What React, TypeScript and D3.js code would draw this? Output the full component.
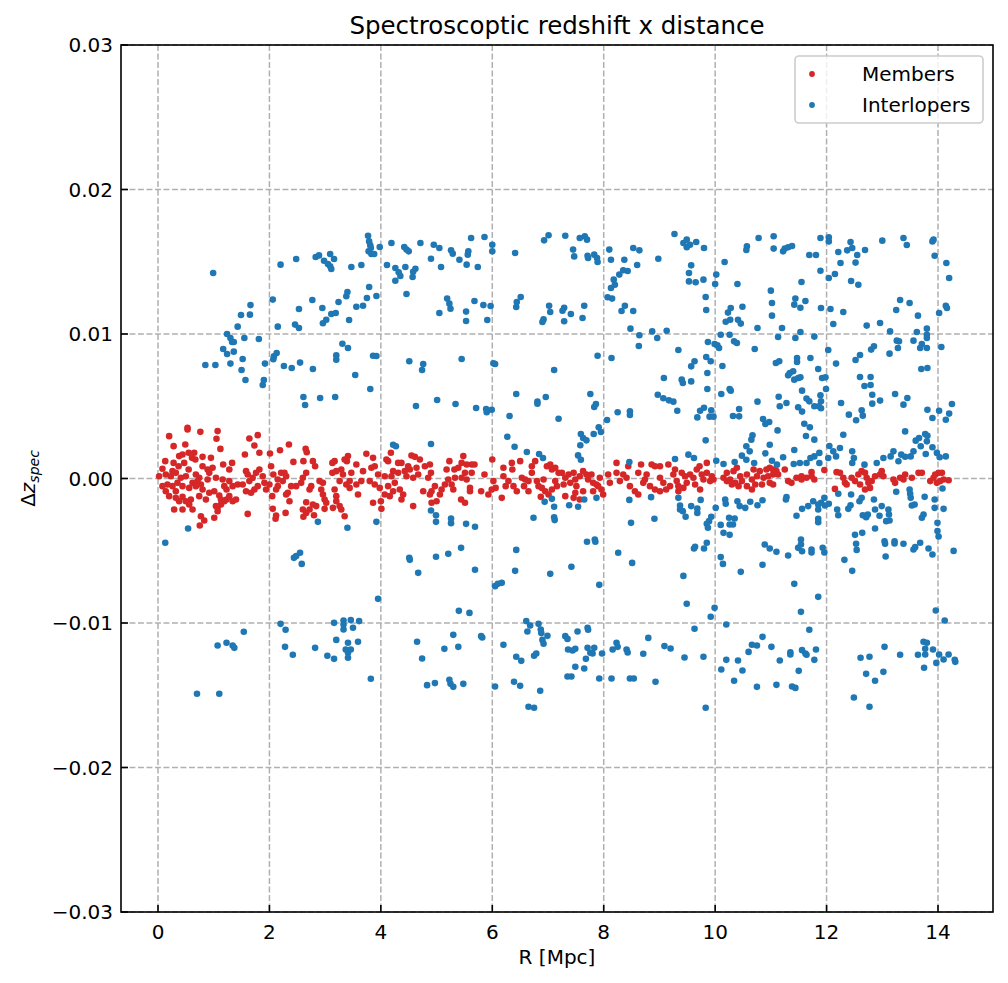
import React from "react";
import * as d3 from "d3";

// ---- Data (R in Mpc, Δz_spec) ----
const xTicks = [0, 2, 4, 6, 8, 10, 12, 14];
const yTicks = [-0.03, -0.02, -0.01, 0.0, 0.01, 0.02, 0.03];
const yTickLabels = ["\u22120.03", "\u22120.02", "\u22120.01", "0.00", "0.01", "0.02", "0.03"];
const seriesNames = ["Members", "Interlopers"];

const members: [number, number][] = [
  [0.53,3.51e-3],[0.53,3.39e-3],[0.76,3.23e-3],[1.07,3.28e-3],[0.20,2.93e-3],[1.79,3.0e-3],[1.64,2.77e-3],[1.05,2.75e-3],
  [0.49,2.35e-3],[0.28,2.24e-3],[1.73,2.28e-3],[1.12,2.05e-3],[1.82,1.78e-3],[2.35,2.35e-3],[2.19,1.96e-3],[2.01,1.73e-3],
  [2.65,2.05e-3],[2.67,1.82e-3],[1.56,1.66e-3],[0.13,1.20e-3],[0.38,1.55e-3],[0.44,1.66e-3],[0.55,1.78e-3],[0.65,1.78e-3],
  [0.61,1.43e-3],[0.80,1.50e-3],[0.67,1.31e-3],[0.95,1.43e-3],[0.28,1.08e-3],[0.47,1.08e-3],[1.17,0.97e-3],[1.33,1.08e-3],
  [1.28,0.62e-3],[0.89,0.62e-3],[0.92,0.39e-3],[0.98,0.74e-3],[0.80,0.85e-3],[0.55,0.62e-3],[0.37,0.85e-3],[0.26,0.51e-3],
  [0.08,0.67e-3],[0.02,0.16e-3],[0.14,0.28e-3],[0.23,0.16e-3],[0.32,0.39e-3],[0.41,0.05e-3],[0.50,0.16e-3],[0.68,0.28e-3],
  [0.74,0.05e-3],[0.89,-0.07e-3],[1.04,0.05e-3],[1.16,-0.07e-3],[1.28,-0.18e-3],[1.43,-0.42e-3],[1.34,-0.53e-3],[1.58,0.51e-3],
  [1.61,0.28e-3],[1.64,-0.18e-3],[1.70,0.05e-3],[1.76,0.39e-3],[1.82,0.62e-3],[1.88,0.16e-3],[1.91,-0.30e-3],[1.79,-0.53e-3],
  [1.73,-0.76e-3],[1.67,-0.99e-3],[1.58,-0.88e-3],[1.52,-0.42e-3],[2.03,0.85e-3],[2.07,0.28e-3],[2.15,-0.07e-3],[2.21,0.39e-3],
  [2.27,0.39e-3],[2.30,0.16e-3],[2.24,-0.18e-3],[2.15,-0.53e-3],[2.0,-0.42e-3],[1.94,-0.76e-3],[2.43,1.15e-3],[2.61,1.20e-3],
  [2.78,1.20e-3],[2.82,0.85e-3],[2.66,0.39e-3],[2.60,0.05e-3],[2.57,-0.30e-3],[2.48,-0.53e-3],[2.39,-0.53e-3],[2.33,-0.99e-3],
  [2.30,-1.11e-3],[2.36,-1.57e-3],[2.05,-1.22e-3],[2.12,-0.76e-3],[2.75,-0.53e-3],[2.72,-0.76e-3],[2.90,-0.18e-3],[2.96,-0.30e-3],
  [2.93,-0.76e-3],[2.96,-1.11e-3],[2.99,-1.45e-3],[3.02,-1.68e-3],[3.13,1.08e-3],[3.17,1.20e-3],[3.20,0.51e-3],[3.13,0.39e-3],
  [3.29,0.62e-3],[3.32,0.28e-3],[3.35,1.31e-3],[3.39,1.20e-3],[3.41,1.55e-3],[3.47,0.39e-3],[3.44,-0.18e-3],[3.44,-0.65e-3],
  [3.38,-0.42e-3],[3.26,-0.18e-3],[3.17,-0.76e-3],[3.20,-1.22e-3],[3.20,-1.57e-3],[3.26,-1.91e-3],[3.14,-2.03e-3],[3.29,-2.15e-3],
  [3.35,-2.61e-3],[2.99,-2.10e-3],[2.84,-1.91e-3],[2.78,-1.80e-3],[2.66,-1.64e-3],[2.72,-2.15e-3],[2.66,-2.38e-3],[2.60,-2.15e-3],
  [2.61,-2.65e-3],[2.80,-2.54e-3],[2.06,-2.10e-3],[2.12,-2.56e-3],[2.11,-2.79e-3],[2.29,-2.38e-3],[1.61,-2.45e-3],[0.77,-2.61e-3],
  [0.83,-2.91e-3],[0.75,-3.25e-3],[1.01,-2.72e-3],[1.07,-2.26e-3],[1.04,-1.91e-3],[1.13,-1.80e-3],[1.19,-1.57e-3],[1.23,-1.45e-3],
  [1.28,-1.22e-3],[1.34,-1.57e-3],[1.40,-1.45e-3],[1.13,-1.45e-3],[1.07,-2.03e-3],[0.62,-2.15e-3],[0.44,-2.15e-3],[0.29,-2.15e-3],
  [0.56,-1.80e-3],[0.50,-1.57e-3],[0.59,-1.45e-3],[0.38,-1.57e-3],[0.32,-1.34e-3],[0.44,-1.27e-3],[0.20,-1.22e-3],[0.14,-0.88e-3],
  [0.08,-0.53e-3],[0.17,-0.42e-3],[0.26,-0.53e-3],[0.32,-0.88e-3],[0.44,-0.53e-3],[0.56,-0.65e-3],[0.68,-0.53e-3],[0.80,-0.76e-3],
  [0.74,-1.22e-3],[0.86,-1.45e-3],[0.92,-0.99e-3],[0.77,-0.42e-3],[0.62,-0.30e-3],[0.71,-0.18e-3],[0.35,-0.30e-3],[1.19,-0.53e-3],
  [1.23,-0.76e-3],[1.01,-0.88e-3],[1.10,-1.18e-3],
  [3.74,1.71e-3],[3.86,1.43e-3],[3.56,0.97e-3],[3.68,0.51e-3],[3.83,0.74e-3],[3.89,0.85e-3],[4.13,1.20e-3],[4.18,1.78e-3],
  [4.10,1.31e-3],[4.31,1.08e-3],[4.37,1.08e-3],[4.55,1.59e-3],[4.61,1.50e-3],[4.70,1.31e-3],[4.49,0.85e-3],[4.43,0.51e-3],
  [4.52,0.62e-3],[4.64,0.74e-3],[4.79,0.85e-3],[4.88,0.97e-3],[4.90,0.39e-3],[4.85,0.05e-3],[4.67,0.28e-3],[4.58,0.05e-3],
  [4.46,0.16e-3],[4.31,0.39e-3],[4.22,0.51e-3],[4.19,0.16e-3],[4.07,0.16e-3],[3.95,0.28e-3],[3.80,-0.18e-3],[3.65,-0.18e-3],
  [3.56,-0.42e-3],[3.89,-0.42e-3],[3.98,-0.65e-3],[4.13,-0.53e-3],[4.25,-0.30e-3],[4.34,-0.76e-3],[4.40,-1.11e-3],[4.22,-0.88e-3],
  [4.07,-1.11e-3],[4.0,-1.57e-3],[4.01,-2.10e-3],[3.86,-1.68e-3],[3.59,-1.11e-3],[4.16,-1.22e-3],[4.37,-1.45e-3],[4.58,-1.91e-3],
  [4.76,-0.88e-3],[4.91,-0.88e-3],[4.97,-0.53e-3],[4.91,-1.68e-3],[5.0,-1.57e-3],[4.88,-1.11e-3],[5.18,0.62e-3],[5.23,1.20e-3],
  [5.32,0.62e-3],[5.39,0.74e-3],[5.48,1.55e-3],[5.45,1.08e-3],[5.54,0.97e-3],[5.63,0.97e-3],[5.68,0.97e-3],[5.51,0.39e-3],
  [5.63,0.39e-3],[5.33,0.05e-3],[5.21,-0.07e-3],[5.27,-0.42e-3],[5.15,-0.42e-3],[5.09,-0.76e-3],[5.30,-0.76e-3],[5.06,-1.11e-3],
  [5.45,0.05e-3],[5.54,-0.07e-3],[5.44,-1.45e-3],[5.51,-1.68e-3],[5.60,-0.88e-3],[5.60,-0.65e-3],[5.80,-0.88e-3],[5.93,-1.11e-3],
  [5.86,0.28e-3],[6.0,1.31e-3],[6.02,-0.18e-3],[5.99,-0.76e-3],[6.06,-0.65e-3],[6.20,0.74e-3],[6.20,0.16e-3],[6.35,1.08e-3],
  [6.36,0.62e-3],[6.29,-0.18e-3],[6.24,-0.53e-3],[6.17,-1.34e-3],[6.38,-0.53e-3],[6.44,-0.88e-3],[6.50,1.20e-3],[6.53,0.05e-3],
  [6.59,-0.07e-3],[6.65,-0.18e-3],[6.71,0.85e-3],[6.71,0.39e-3],[6.77,1.20e-3],[6.80,-0.18e-3],[6.83,-0.53e-3],[6.92,-0.07e-3],
  [6.89,-0.65e-3],[6.95,-0.88e-3],[6.98,0.85e-3],[7.04,0.97e-3],[7.07,0.62e-3],[7.13,0.74e-3],[7.19,0.39e-3],[7.13,-0.18e-3],
  [7.16,-0.53e-3],[7.07,-0.76e-3],[7.01,-1.11e-3],[6.87,-1.27e-3],[6.65,-0.88e-3],[6.57,-0.53e-3],
  [7.25,0.39e-3],[7.31,0.05e-3],[7.28,-0.42e-3],[7.37,0.28e-3],[7.40,-0.30e-3],[7.46,0.39e-3],[7.49,-0.07e-3],[7.51,-0.53e-3],
  [7.57,0.16e-3],[7.63,0.51e-3],[7.69,0.28e-3],[7.72,-0.07e-3],[7.63,-0.88e-3],[7.49,-0.99e-3],[7.31,-1.22e-3],[7.46,-1.34e-3],
  [7.57,-1.45e-3],[7.78,0.28e-3],[7.81,-0.30e-3],[7.81,-0.88e-3],[7.93,0.05e-3],[7.87,-0.42e-3],[7.96,-0.76e-3],[7.99,-1.11e-3],
  [7.90,-0.53e-3],[8.08,0.28e-3],[8.11,-0.30e-3],[8.23,1.08e-3],[8.23,0.39e-3],[8.35,0.28e-3],[8.41,0.05e-3],[8.29,-0.18e-3],
  [8.47,-0.53e-3],[8.56,-0.88e-3],[8.62,-1.11e-3],[8.44,0.85e-3],[8.62,0.39e-3],[8.67,0.97e-3],[8.77,0.28e-3],[8.74,-0.07e-3],
  [8.71,-0.30e-3],[8.86,0.97e-3],[8.92,0.85e-3],[9.01,0.85e-3],[8.83,-0.53e-3],[8.92,-0.76e-3],[9.01,-0.88e-3],[9.07,-0.30e-3],
  [9.01,0.05e-3],[9.12,-0.76e-3],[9.19,-0.53e-3],[9.16,0.97e-3],[9.28,0.62e-3],[9.25,0.28e-3],[9.31,-0.18e-3],[9.34,-0.53e-3],
  [9.34,-0.88e-3],[9.40,0.39e-3],[9.46,0.16e-3],[9.49,-0.30e-3],[9.43,-0.65e-3],[9.55,0.28e-3],[9.61,0.05e-3],[9.64,-0.42e-3],
  [9.67,0.62e-3],[9.72,0.85e-3],[9.76,0.28e-3],[9.79,-0.07e-3],[9.85,0.39e-3],[9.85,1.08e-3],[9.91,-0.18e-3],[9.94,0.16e-3],
  [9.97,-0.07e-3],[9.73,-0.76e-3],[10.15,0.05e-3],[10.21,0.39e-3],[10.27,-0.07e-3],[10.33,0.51e-3],[10.39,0.74e-3],[10.36,-0.30e-3],
  [10.45,0.16e-3],[10.48,-0.18e-3],[10.57,0.28e-3],[10.57,-0.53e-3],[10.66,-0.07e-3],[10.66,-0.76e-3],[10.69,0.62e-3],[10.75,0.16e-3],
  [10.80,0.51e-3],[10.87,0.05e-3],[10.84,-0.42e-3],[10.72,-0.42e-3],[10.21,-0.18e-3],[10.30,-0.42e-3],[10.42,-0.53e-3],
  [10.92,0.62e-3],[10.98,0.74e-3],[11.04,0.62e-3],[11.10,0.51e-3],[10.95,0.16e-3],[11.04,0.28e-3],[11.13,0.28e-3],[10.98,-0.30e-3],
  [11.04,-0.42e-3],[11.25,0.62e-3],[11.31,-0.18e-3],[11.37,-0.30e-3],[11.46,0.05e-3],[11.55,0.16e-3],[11.55,-0.07e-3],[11.64,0.05e-3],
  [11.73,0.16e-3],[11.73,0.44e-3],[11.78,-0.07e-3],[11.96,0.58e-3],[12.15,-0.72e-3],[12.18,0.44e-3],[12.24,0.39e-3],[12.30,0.05e-3],
  [12.33,-0.30e-3],[12.36,-0.42e-3],[12.45,0.05e-3],[12.51,-0.18e-3],[12.57,0.28e-3],[12.63,0.51e-3],[12.69,0.39e-3],[12.72,0.05e-3],
  [12.75,-0.30e-3],[12.78,-0.65e-3],[12.81,-0.18e-3],[12.87,0.16e-3],[12.96,0.28e-3],[12.99,0.51e-3],[13.02,0.16e-3],[12.60,-0.42e-3],
  [12.69,-0.76e-3],[13.20,-0.07e-3],[13.23,-0.30e-3],[13.32,0.05e-3],[13.38,-0.07e-3],[13.41,0.28e-3],[13.53,0.05e-3],[13.65,0.39e-3],
  [13.71,0.39e-3],[13.86,-0.18e-3],[13.92,0.05e-3],[13.95,0.28e-3],[14.01,0.39e-3],[14.07,0.39e-3],[14.10,-0.07e-3],[14.19,-0.12e-3],
  [13.98,-0.30e-3],[14.04,-0.18e-3],
];

const interlopers: [number, number][] = [
  [0.99,14.22e-3],[2.20,14.80e-3],[2.48,15.19e-3],[2.83,15.33e-3],[2.89,15.44e-3],[2.98,15.07e-3],[3.09,15.54e-3],[3.16,15.19e-3],
  [3.05,14.84e-3],[3.09,14.68e-3],[3.11,14.50e-3],[2.06,12.38e-3],[1.66,12.0e-3],[1.49,11.31e-3],[1.65,11.34e-3],[1.43,10.51e-3],
  [2.15,10.51e-3],[2.46,10.65e-3],[2.53,10.42e-3],[2.53,11.73e-3],[2.77,12.35e-3],[2.95,11.80e-3],[3.11,11.38e-3],[3.19,11.45e-3],
  [3.24,12.21e-3],[2.96,10.74e-3],[3.02,10.99e-3],[1.24,10.0e-3],[1.30,9.72e-3],[1.33,9.45e-3],[1.36,9.45e-3],[1.55,9.72e-3],
  [1.81,9.65e-3],[1.17,8.96e-3],[1.24,8.62e-3],[1.36,8.78e-3],[1.30,7.95e-3],[0.85,7.85e-3],[1.03,7.85e-3],[1.52,8.27e-3],
  [1.50,7.51e-3],[1.57,6.82e-3],[1.90,6.82e-3],[1.88,6.47e-3],[1.92,7.95e-3],[2.08,8.45e-3],[2.13,8.69e-3],[2.07,8.25e-3],
  [2.26,7.79e-3],[2.40,7.65e-3],[2.55,8.02e-3],[2.78,7.58e-3],[3.20,8.52e-3],[3.20,8.22e-3],[2.61,5.64e-3],[2.64,5.09e-3],
  [2.91,5.57e-3],[3.18,5.64e-3],
  [3.77,16.80e-3],[3.79,16.41e-3],[3.81,16.14e-3],[3.78,15.72e-3],[3.83,15.54e-3],[3.88,15.54e-3],[3.82,15.95e-3],[3.98,16.02e-3],
  [4.19,16.30e-3],[4.42,16.02e-3],[4.46,15.84e-3],[4.50,15.72e-3],[4.71,16.30e-3],[4.95,16.18e-3],[5.05,15.95e-3],[5.26,15.79e-3],
  [5.29,15.56e-3],[5.57,15.72e-3],[5.56,15.49e-3],[5.62,16.64e-3],[5.86,16.71e-3],[6.0,16.18e-3],[6.0,15.72e-3],[6.41,15.61e-3],
  [6.93,16.48e-3],[7.01,16.83e-3],[3.47,14.64e-3],[3.65,14.78e-3],[4.11,14.78e-3],[4.26,14.57e-3],[4.32,14.27e-3],[4.35,14.01e-3],
  [4.26,13.69e-3],[4.44,14.64e-3],[4.58,14.31e-3],[4.62,14.52e-3],[4.57,13.94e-3],[4.90,15.21e-3],[5.08,14.64e-3],[5.41,15.14e-3],
  [5.54,14.80e-3],[5.74,14.64e-3],[4.46,12.77e-3],[3.79,13.25e-3],[3.92,12.63e-3],[3.75,12.49e-3],[3.38,12.61e-3],[3.40,12.91e-3],
  [3.56,11.89e-3],[3.68,11.96e-3],[3.43,10.97e-3],[5.19,12.45e-3],[5.23,12.10e-3],[5.25,11.75e-3],[5.05,11.45e-3],[5.53,11.55e-3],
  [5.53,10.90e-3],[5.68,12.28e-3],[5.84,12.0e-3],[5.97,11.94e-3],[5.91,10.97e-3],[6.51,12.56e-3],[6.44,12.21e-3],[6.43,11.87e-3],
  [7.02,11.96e-3],[7.04,11.52e-3],[6.92,11.01e-3],[6.90,10.83e-3],[3.31,9.33e-3],[3.41,9.03e-3],[3.86,8.50e-3],[3.92,8.48e-3],
  [3.54,7.16e-3],[3.81,6.19e-3],[4.51,8.11e-3],[4.76,7.92e-3],[4.74,7.51e-3],[5.45,8.27e-3],[6.02,7.97e-3],[6.05,7.92e-3],
  [7.11,7.51e-3],[4.63,5.02e-3],[5.01,5.43e-3],[5.34,5.16e-3],[5.71,4.88e-3],[5.89,4.81e-3],[5.90,4.58e-3],[5.99,4.76e-3],
  [6.43,5.85e-3],[6.81,5.32e-3],[6.81,5.18e-3],[6.96,5.64e-3],[6.31,4.33e-3],[7.19,4.14e-3],[6.27,2.89e-3],[6.40,2.20e-3],
  [6.62,1.83e-3],[6.84,1.70e-3],[6.91,1.42e-3],[4.22,2.34e-3],[4.27,2.23e-3],[4.90,2.39e-3],
  [7.31,16.80e-3],[7.57,16.64e-3],[7.70,16.53e-3],[7.66,16.76e-3],[7.45,15.84e-3],[7.47,15.37e-3],[7.71,15.42e-3],[7.72,15.26e-3],
  [7.83,15.49e-3],[7.88,15.26e-3],[7.89,14.98e-3],[8.10,15.84e-3],[8.13,15.14e-3],[8.37,15.14e-3],[8.53,15.95e-3],[8.64,15.79e-3],
  [8.60,14.78e-3],[8.98,15.21e-3],[8.35,14.41e-3],[8.28,14.11e-3],[8.43,14.36e-3],[8.18,13.76e-3],[8.13,13.18e-3],[8.20,13.41e-3],
  [8.07,12.54e-3],[8.15,12.45e-3],[8.32,11.59e-3],[8.38,11.96e-3],[8.53,11.59e-3],[7.29,11.82e-3],[7.26,11.61e-3],[7.41,11.38e-3],
  [7.29,10.88e-3],[7.62,11.11e-3],[7.65,11.96e-3],[9.27,16.92e-3],[9.43,16.30e-3],[9.49,16.53e-3],[9.55,16.18e-3],[9.49,16.0e-3],
  [9.66,16.37e-3],[9.80,15.95e-3],[9.57,14.75e-3],[9.53,14.22e-3],[9.53,13.64e-3],[9.65,13.58e-3],[9.79,13.76e-3],[10.02,14.11e-3],
  [10.00,13.46e-3],[9.83,12.56e-3],[9.84,11.66e-3],[10.17,14.98e-3],[10.40,13.46e-3],[10.78,16.64e-3],[10.57,16.07e-3],[10.56,15.81e-3],
  [11.05,16.76e-3],[11.05,15.91e-3],[11.00,13.0e-3],[11.02,12.15e-3],[11.02,11.27e-3],[10.23,11.48e-3],[10.28,11.80e-3],[10.49,11.89e-3],
  [10.19,10.85e-3],[10.27,10.99e-3],[10.41,10.99e-3],[10.46,10.72e-3],[10.76,10.42e-3],[8.48,10.37e-3],[8.64,9.91e-3],[8.87,10.18e-3],
  [8.96,9.72e-3],[9.13,10.23e-3],[8.63,9.17e-3],[7.89,8.50e-3],[8.14,8.34e-3],[9.34,8.89e-3],[9.87,9.45e-3],[9.99,9.31e-3],
  [10.04,9.22e-3],[10.07,9.03e-3],[10.10,9.95e-3],[10.26,9.95e-3],[10.34,9.49e-3],[10.39,9.38e-3],[10.71,8.96e-3],[11.13,9.79e-3],
  [9.63,8.11e-3],[9.57,7.76e-3],[9.84,8.41e-3],[9.92,8.11e-3],[9.86,7.30e-3],[10.13,7.79e-3],[11.09,7.99e-3],[11.15,8.11e-3],
  [9.08,6.95e-3],[9.40,6.84e-3],[9.42,6.61e-3],[9.57,6.72e-3],[9.86,6.19e-3],[8.97,5.80e-3],[9.07,5.55e-3],[9.17,5.41e-3],
  [9.25,5.32e-3],[9.32,4.69e-3],[10.11,5.85e-3],[10.26,6.19e-3],[10.28,6.08e-3],[10.76,5.32e-3],[7.76,5.85e-3],[7.83,4.95e-3],
  [7.86,5.16e-3],[8.25,4.58e-3],[8.47,4.65e-3],[8.47,4.39e-3],[8.06,4.05e-3],[9.73,4.69e-3],[9.80,4.90e-3],[9.68,4.23e-3],
  [9.93,4.72e-3],[9.90,4.28e-3],[9.97,4.28e-3],[10.43,4.81e-3],[10.32,4.33e-3],[10.43,4.30e-3],[10.86,4.12e-3],[10.90,3.77e-3],
  [10.97,3.91e-3],[11.12,3.33e-3],[7.59,3.08e-3],[7.63,2.80e-3],[7.69,2.64e-3],[7.82,3.08e-3],[7.91,3.54e-3],[7.95,3.22e-3],
  [7.58,2.30e-3],[7.54,1.60e-3],[7.59,1.30e-3],[9.83,2.64e-3],[9.28,1.35e-3],[9.52,1.65e-3],[9.62,1.42e-3],[8.46,1.14e-3],
  [10.67,2.99e-3],[10.65,2.69e-3],[10.56,2.23e-3],[10.62,1.88e-3],[10.48,1.58e-3],[10.56,1.30e-3],[10.70,1.07e-3],[10.35,1.14e-3],
  [10.15,1.00e-3],[10.02,1.23e-3],[10.98,2.34e-3],[10.90,1.74e-3],[11.02,1.23e-3],[11.11,0.96e-3],
  [11.22,15.72e-3],[11.25,15.91e-3],[11.31,16.0e-3],[11.38,16.09e-3],[11.69,15.47e-3],[11.81,15.47e-3],[11.89,16.64e-3],[12.04,16.69e-3],
  [12.04,16.41e-3],[11.89,14.38e-3],[11.55,13.60e-3],[12.04,13.88e-3],[12.15,14.15e-3],[12.21,15.67e-3],[12.25,14.91e-3],[12.37,15.79e-3],
  [12.43,16.37e-3],[12.46,15.95e-3],[12.55,15.47e-3],[12.52,14.94e-3],[12.69,15.81e-3],[12.44,13.67e-3],[12.57,13.41e-3],[13.0,16.46e-3],
  [13.38,16.64e-3],[13.44,16.16e-3],[13.90,16.41e-3],[13.92,16.53e-3],[13.94,15.42e-3],[14.15,14.91e-3],[14.20,13.88e-3],[11.44,12.45e-3],
  [11.42,12.03e-3],[11.53,11.82e-3],[11.62,12.28e-3],[11.90,11.80e-3],[12.07,11.73e-3],[12.30,11.52e-3],[12.12,10.69e-3],[12.72,10.58e-3],
  [12.96,10.76e-3],[13.32,12.35e-3],[13.49,12.15e-3],[13.25,11.66e-3],[13.64,11.27e-3],[13.80,10.37e-3],[13.80,9.95e-3],[14.02,11.45e-3],
  [14.14,11.96e-3],[14.16,11.80e-3],[11.20,10.42e-3],[11.44,9.72e-3],[11.53,10.14e-3],[11.78,9.82e-3],[13.14,10.18e-3],[13.26,9.54e-3],
  [13.30,9.49e-3],[13.28,9.03e-3],[13.13,8.64e-3],[13.56,9.54e-3],[13.62,10.14e-3],[13.71,9.31e-3],[13.68,9.03e-3],[13.80,9.03e-3],
  [13.80,9.72e-3],[14.06,9.10e-3],[12.03,8.89e-3],[12.17,7.95e-3],[12.52,8.20e-3],[12.60,8.55e-3],[12.80,8.92e-3],[12.85,9.15e-3],
  [11.47,8.34e-3],[11.47,8.06e-3],[11.71,8.34e-3],[11.85,7.58e-3],[11.92,6.95e-3],[11.98,7.0e-3],[11.34,7.30e-3],[11.40,7.42e-3],
  [11.31,7.14e-3],[11.42,6.84e-3],[11.49,6.95e-3],[11.53,7.0e-3],[13.70,7.58e-3],[13.81,7.65e-3],[12.60,7.02e-3],[12.79,7.02e-3],
  [12.68,6.40e-3],[12.79,6.47e-3],[11.56,6.08e-3],[11.99,6.19e-3],[12.82,5.80e-3],[12.82,5.18e-3],[12.96,5.39e-3],[13.23,5.85e-3],
  [13.38,5.11e-3],[13.45,5.57e-3],[11.14,5.66e-3],[11.16,5.0e-3],[11.28,5.23e-3],[11.49,4.93e-3],[11.56,4.63e-3],[11.64,5.53e-3],
  [11.69,5.34e-3],[11.78,5.0e-3],[11.86,5.0e-3],[11.89,5.76e-3],[11.90,5.34e-3],[11.90,4.86e-3],[12.26,5.23e-3],[12.40,4.42e-3],
  [12.53,4.03e-3],[12.63,4.72e-3],[12.65,4.35e-3],[13.81,4.76e-3],[13.90,4.19e-3],[14.02,4.69e-3],[14.14,4.07e-3],[14.20,4.49e-3],
  [14.25,5.16e-3],[11.60,3.79e-3],[11.70,3.54e-3],[11.63,2.94e-3],[11.78,2.69e-3],[12.30,3.03e-3],[13.41,3.26e-3],[13.60,2.62e-3],
  [13.66,2.80e-3],[13.77,3.08e-3],[13.81,2.96e-3],[13.80,2.57e-3],[13.69,2.23e-3],[13.56,1.88e-3],[13.51,1.53e-3],[13.41,1.51e-3],
  [13.34,1.65e-3],[13.20,1.88e-3],[13.15,1.53e-3],[13.29,1.19e-3],[13.78,1.70e-3],[13.90,2.16e-3],[13.98,1.77e-3],[14.03,1.47e-3],
  [14.14,1.53e-3],[12.05,2.25e-3],[12.12,1.88e-3],[12.17,1.53e-3],[12.24,2.11e-3],[12.46,1.88e-3],[12.49,1.42e-3],[12.46,1.07e-3],
  [12.68,0.96e-3],[12.90,1.07e-3],[13.02,1.42e-3],[12.03,1.42e-3],[11.87,1.77e-3],[11.78,1.53e-3],[11.71,1.42e-3],[11.64,1.07e-3],
  [11.52,1.07e-3],[11.41,1.0e-3],[11.22,1.47e-3],[11.87,1.07e-3],[11.42,1.97e-3],
  [0.54,-3.46e-3],[0.13,-4.45e-3],[2.87,-3.0e-3],[2.44,-5.49e-3],[2.48,-5.37e-3],[2.55,-5.14e-3],[2.58,-5.91e-3],[2.20,-10.06e-3],
  [2.29,-10.47e-3],[3.16,-9.99e-3],[1.54,-10.61e-3],[1.07,-11.56e-3],[1.23,-11.37e-3],[1.34,-11.56e-3],[1.37,-11.72e-3],[2.28,-11.65e-3],
  [2.42,-12.20e-3],[2.82,-11.72e-3],[3.04,-12.27e-3],[3.16,-12.48e-3],[3.20,-11.17e-3],[0.70,-14.90e-3],[1.10,-14.90e-3],
  [3.40,-3.41e-3],[3.92,-3.0e-3],[4.90,-2.21e-3],[4.99,-2.54e-3],[4.99,-3.0e-3],[5.26,-2.77e-3],[5.26,-3.09e-3],[5.53,-3.14e-3],
  [5.69,-3.34e-3],[4.51,-5.49e-3],[4.52,-5.63e-3],[4.99,-5.42e-3],[5.21,-5.21e-3],[5.44,-4.80e-3],[4.67,-6.53e-3],[5.69,-6.32e-3],
  [6.05,-7.45e-3],[6.10,-7.29e-3],[6.17,-7.22e-3],[6.43,-4.94e-3],[6.41,-6.39e-3],[7.04,-6.60e-3],[6.74,-2.72e-3],[6.94,-1.61e-3],
  [7.07,-1.41e-3],[7.11,-1.96e-3],[7.11,-2.68e-3],[7.12,-2.88e-3],[3.95,-8.33e-3],[5.40,-9.16e-3],[5.59,-9.30e-3],[3.33,-9.83e-3],
  [3.33,-10.10e-3],[3.33,-10.45e-3],[3.46,-9.80e-3],[3.50,-10.33e-3],[3.61,-9.87e-3],[3.41,-11.37e-3],[3.59,-11.30e-3],[3.37,-11.83e-3],
  [3.41,-12.06e-3],[3.41,-12.41e-3],[3.46,-11.83e-3],[3.82,-13.86e-3],[4.65,-11.30e-3],[4.74,-12.46e-3],[5.14,-11.79e-3],[5.30,-10.82e-3],
  [5.39,-11.65e-3],[5.80,-10.91e-3],[5.82,-11.0e-3],[4.83,-14.30e-3],[4.97,-14.16e-3],[5.23,-13.93e-3],[5.25,-14.21e-3],[5.30,-14.42e-3],
  [5.48,-14.21e-3],[6.05,-14.39e-3],[6.20,-11.51e-3],[6.43,-12.34e-3],[6.52,-12.62e-3],[6.61,-9.87e-3],[6.68,-10.17e-3],[6.83,-10.06e-3],
  [6.87,-10.45e-3],[6.88,-10.70e-3],[6.63,-10.59e-3],[6.99,-10.89e-3],[6.90,-11.17e-3],[6.92,-11.44e-3],[6.75,-12.27e-3],[6.79,-12.11e-3],
  [6.39,-14.07e-3],[6.50,-14.35e-3],[6.86,-14.69e-3],[6.65,-15.80e-3],[6.75,-15.87e-3],
  [7.38,-1.85e-3],[7.54,-1.96e-3],[7.65,-1.45e-3],[7.87,-1.34e-3],[7.70,-4.38e-3],[7.84,-4.22e-3],[7.85,-4.38e-3],[7.42,-6.11e-3],
  [7.92,-7.36e-3],[8.26,-5.14e-3],[8.51,-5.84e-3],[8.46,-1.48e-3],[8.49,-3.07e-3],[8.85,-1.29e-3],[8.91,-2.79e-3],[9.34,-1.34e-3],
  [9.37,-1.87e-3],[9.37,-2.15e-3],[9.42,-2.26e-3],[9.47,-2.65e-3],[9.57,-1.91e-3],[9.68,-2.08e-3],[9.68,-2.38e-3],[9.74,-1.48e-3],
  [10.01,-2.03e-3],[9.93,-2.65e-3],[9.89,-2.95e-3],[9.85,-3.14e-3],[9.87,-3.41e-3],[9.62,-4.84e-3],[9.64,-4.73e-3],[9.80,-4.84e-3],
  [9.85,-4.45e-3],[9.43,-6.74e-3],[9.49,-8.67e-3],[9.92,-9.57e-3],[9.99,-8.95e-3],[9.63,-10.40e-3],[10.18,-1.45e-3],[10.19,-1.75e-3],
  [10.40,-1.57e-3],[10.44,-1.91e-3],[10.54,-2.03e-3],[10.63,-1.61e-3],[10.76,-1.85e-3],[10.85,-1.50e-3],[10.25,-2.72e-3],[10.35,-2.77e-3],
  [10.26,-3.18e-3],[10.32,-3.18e-3],[10.10,-3.21e-3],[10.15,-3.76e-3],[10.26,-3.90e-3],[10.10,-5.44e-3],[10.14,-5.91e-3],[10.46,-6.46e-3],
  [10.85,-5.97e-3],[10.89,-4.57e-3],[10.98,-4.84e-3],[11.10,-5.07e-3],[10.20,-10.10e-3],[7.31,-10.91e-3],[7.35,-11.10e-3],[7.53,-10.59e-3],
  [7.71,-10.33e-3],[7.72,-10.47e-3],[7.36,-11.83e-3],[7.44,-11.90e-3],[7.49,-11.79e-3],[7.71,-11.72e-3],[7.76,-12.06e-3],[7.80,-12.11e-3],
  [7.83,-11.72e-3],[7.97,-12.11e-3],[7.68,-12.48e-3],[7.49,-13.03e-3],[7.65,-13.15e-3],[7.35,-13.70e-3],[7.42,-13.70e-3],[7.92,-13.84e-3],
  [8.14,-13.84e-3],[8.16,-11.83e-3],[8.23,-11.37e-3],[8.25,-11.65e-3],[8.41,-11.83e-3],[8.43,-12.04e-3],[8.47,-13.84e-3],[8.54,-13.84e-3],
  [8.71,-12.13e-3],[8.80,-11.03e-3],[8.93,-14.07e-3],[9.09,-11.60e-3],[9.20,-11.76e-3],[9.45,-12.39e-3],[9.79,-12.34e-3],[9.83,-15.87e-3],
  [10.11,-13.22e-3],[10.20,-12.55e-3],[10.41,-12.60e-3],[10.49,-13.29e-3],[10.34,-14.0e-3],[10.60,-12.0e-3],[10.66,-11.51e-3],[10.75,-11.56e-3],
  [10.85,-10.96e-3],[11.01,-11.65e-3],[11.16,-12.60e-3],[10.75,-14.42e-3],[11.10,-14.28e-3],
  [11.28,-1.29e-3],[11.27,-1.45e-3],[11.46,-2.58e-3],[11.56,-2.10e-3],[11.67,-1.91e-3],[11.76,-1.57e-3],[11.85,-1.80e-3],[11.85,-2.15e-3],
  [11.90,-1.68e-3],[11.96,-1.34e-3],[11.97,-1.87e-3],[12.04,-1.75e-3],[11.85,-2.79e-3],[11.85,-3.02e-3],[12.21,-1.06e-3],[12.19,-2.15e-3],
  [12.21,-2.54e-3],[12.39,-2.10e-3],[12.43,-1.85e-3],[12.44,-1.11e-3],[12.59,-1.57e-3],[12.63,-1.34e-3],[12.65,-2.54e-3],[12.71,-2.68e-3],
  [12.74,-2.49e-3],[12.85,-1.45e-3],[12.87,-2.15e-3],[12.99,-1.91e-3],[12.95,-2.58e-3],[13.11,-2.15e-3],[13.12,-2.49e-3],[13.07,-2.95e-3],
  [13.13,-2.91e-3],[12.87,-3.46e-3],[13.25,-0.92e-3],[13.49,-0.76e-3],[13.50,-1.06e-3],[13.51,-1.34e-3],[13.53,-1.87e-3],[13.58,-1.80e-3],
  [13.76,-1.27e-3],[13.74,-2.49e-3],[13.71,-2.72e-3],[13.94,-1.45e-3],[13.94,-2.03e-3],[14.10,-2.10e-3],[14.08,-0.69e-3],[13.99,-3.07e-3],
  [13.99,-3.64e-3],[14.01,-4.01e-3],[12.51,-3.90e-3],[12.64,-3.76e-3],[12.53,-4.52e-3],[12.54,-4.94e-3],[12.32,-5.63e-3],[12.46,-6.39e-3],
  [13.04,-4.34e-3],[13.05,-4.52e-3],[13.22,-4.34e-3],[13.22,-4.50e-3],[13.38,-4.52e-3],[13.06,-5.40e-3],[13.56,-4.91e-3],[13.59,-4.75e-3],
  [13.68,-4.45e-3],[13.83,-4.84e-3],[13.90,-5.26e-3],[14.28,-5.01e-3],[11.54,-4.22e-3],[11.54,-4.57e-3],[11.49,-4.80e-3],[11.56,-5.03e-3],
  [11.73,-4.91e-3],[11.73,-5.12e-3],[11.93,-4.80e-3],[11.96,-5.12e-3],[11.31,-5.33e-3],[11.42,-7.29e-3],[11.85,-8.19e-3],[11.54,-9.23e-3],
  [13.96,-9.13e-3],[14.12,-9.83e-3],[11.69,-10.47e-3],[11.35,-12.02e-3],[11.35,-12.18e-3],[11.56,-11.88e-3],[11.62,-12.11e-3],[11.64,-12.20e-3],
  [11.81,-11.83e-3],[11.78,-12.55e-3],[11.50,-13.31e-3],[11.38,-14.39e-3],[11.44,-14.49e-3],[12.61,-12.41e-3],[12.77,-12.34e-3],[13.04,-11.65e-3],
  [12.71,-13.52e-3],[12.87,-14.0e-3],[13.02,-13.38e-3],[12.49,-15.16e-3],[12.77,-15.80e-3],[13.32,-12.20e-3],[13.64,-12.20e-3],[13.74,-11.30e-3],
  [13.80,-11.37e-3],[13.77,-11.79e-3],[13.77,-12.18e-3],[13.91,-11.83e-3],[14.02,-12.18e-3],[14.10,-12.53e-3],[14.19,-12.18e-3],[14.30,-12.55e-3],
  [14.31,-12.69e-3],[13.97,-12.76e-3],[13.75,-13.10e-3],
];

// ---- Layout ----
const W = 1008;
const H = 983;
const left = 121, right = 993, top = 45, bottom = 912;
const RED = "#d62728";
const BLUE = "#1f77b4";
const FONT = "DejaVu Sans, sans-serif";

export default function App() {
  const x = d3.scaleLinear().domain([-0.664, 14.987]).range([left, right]);
  const y = d3.scaleLinear().domain([-0.03, 0.03]).range([bottom, top]);
  const r = 3.3;

  return (
    <svg
      width={W}
      height={H}
      viewBox={`0 0 ${W} ${H}`}
      style={{ position: "absolute", left: 0, top: 0, background: "#fff" }}
      fontFamily={FONT}
    >
      <rect x={0} y={0} width={W} height={H} fill="#fff" />
      {/* grid */}
      <g stroke="#b0b0b0" strokeWidth={1.5} strokeDasharray="5.9,2.6">
        {xTicks.map((t) => (
          <line key={"gx" + t} x1={x(t)} x2={x(t)} y1={top} y2={bottom} />
        ))}
        {yTicks.map((t) => (
          <line key={"gy" + t} x1={left} x2={right} y1={y(t)} y2={y(t)} />
        ))}
      </g>
      {/* points */}
      <defs>
        <clipPath id="plotclip">
          <rect x={left} y={top} width={right - left} height={bottom - top} />
        </clipPath>
      </defs>
      <g clipPath="url(#plotclip)">
        <g fill={RED}>
          {members.map((d, i) => (
            <circle key={"m" + i} cx={x(d[0])} cy={y(d[1])} r={r} />
          ))}
        </g>
        <g fill={BLUE}>
          {interlopers.map((d, i) => (
            <circle key={"b" + i} cx={x(d[0])} cy={y(d[1])} r={r} />
          ))}
        </g>
      </g>
      {/* spines */}
      <rect
        x={left}
        y={top}
        width={right - left}
        height={bottom - top}
        fill="none"
        stroke="#000"
        strokeWidth={1.6}
      />
      {/* ticks */}
      <g stroke="#000" strokeWidth={1.6}>
        {xTicks.map((t) => (
          <line key={"tx" + t} x1={x(t)} x2={x(t)} y1={bottom} y2={bottom - 7} />
        ))}
        {yTicks.map((t) => (
          <line key={"ty" + t} x1={left} x2={left + 7} y1={y(t)} y2={y(t)} />
        ))}
      </g>
      {/* tick labels */}
      <g fontSize={20} fill="#000">
        {xTicks.map((t) => (
          <text key={"lx" + t} x={x(t)} y={939} textAnchor="middle">
            {String(t)}
          </text>
        ))}
        {yTicks.map((t, i) => (
          <text key={"ly" + t} x={113} y={y(t) + 7} textAnchor="end">
            {yTickLabels[i]}
          </text>
        ))}
      </g>
      {/* axis labels */}
      <text x={(left + right) / 2} y={964} textAnchor="middle" fontSize={20}>
        R [Mpc]
      </text>
      <text
        transform={`translate(35, ${(top + bottom) / 2}) rotate(-90)`}
        textAnchor="middle"
        fontSize={20}
      >
        <tspan>Δ</tspan>
        <tspan fontStyle="italic">z</tspan>
        <tspan fontStyle="italic" fontSize={14} dy={4}>
          spec
        </tspan>
      </text>
      {/* title */}
      <text x={(left + right) / 2} y={34} textAnchor="middle" fontSize={24.5}>
        Spectroscoptic redshift x distance
      </text>
      {/* legend */}
      <g>
        <rect
          x={795}
          y={56}
          width={188}
          height={67}
          rx={4}
          fill="#fff"
          fillOpacity={0.8}
          stroke="#cccccc"
          strokeWidth={1.6}
        />
        <circle cx={812} cy={74} r={2.9} fill={RED} />
        <text x={862} y={81} fontSize={20}>
          {seriesNames[0]}
        </text>
        <circle cx={812} cy={105} r={2.9} fill={BLUE} />
        <text x={862} y={112} fontSize={20}>
          {seriesNames[1]}
        </text>
      </g>
    </svg>
  );
}
